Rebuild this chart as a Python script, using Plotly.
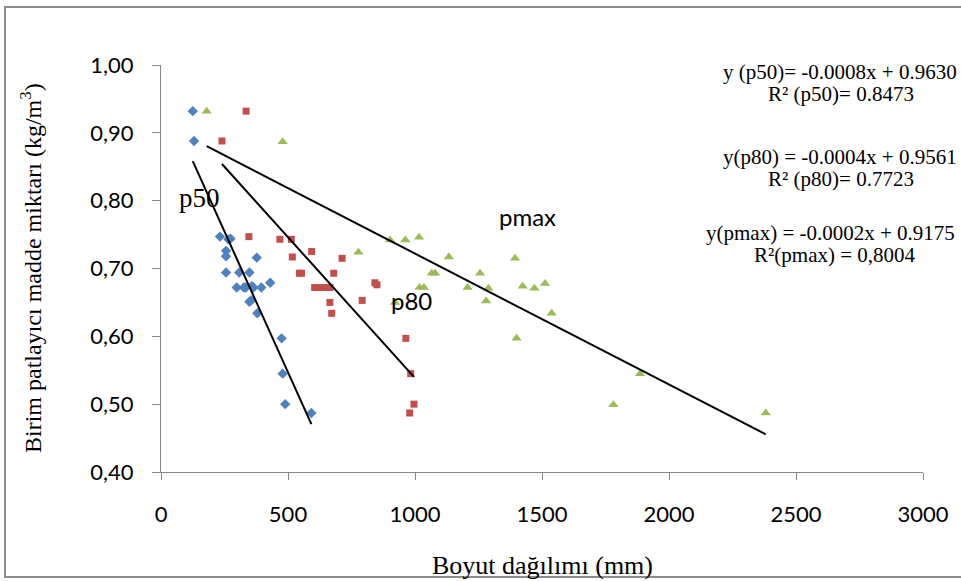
import plotly.graph_objects as go

# ---- data ----
x_p50 = [125, 130, 232, 265, 274, 256, 256, 377, 256, 308, 348, 298, 326, 334, 358,
         364, 395, 430, 348, 355, 379, 475, 479, 489, 592]
y_p50 = [0.932, 0.888, 0.747, 0.743, 0.744, 0.726, 0.718, 0.716, 0.694, 0.694, 0.694,
         0.672, 0.672, 0.672, 0.674, 0.672, 0.672, 0.679, 0.651, 0.653, 0.634, 0.597,
         0.545, 0.500, 0.487]

x_p80 = [335, 240, 346, 468, 513, 593, 517, 713, 545, 553, 680, 605, 620, 635, 650,
         665, 842, 850, 665, 792, 672, 964, 983, 996, 979]
y_p80 = [0.932, 0.888, 0.747, 0.743, 0.743, 0.725, 0.717, 0.715, 0.693, 0.693, 0.693,
         0.672, 0.672, 0.672, 0.672, 0.672, 0.679, 0.676, 0.650, 0.653, 0.634, 0.597,
         0.545, 0.500, 0.487]

x_pmax = [180, 479, 1016, 902, 962, 777, 1133, 1394, 1066, 1079, 1256, 1018, 1035,
          1207, 1289, 1424, 1470, 1512, 1280, 921, 1538, 1400, 1886, 1781, 2381]
y_pmax = [0.932, 0.887, 0.746, 0.742, 0.742, 0.724, 0.717, 0.715, 0.693, 0.693, 0.693,
          0.672, 0.672, 0.672, 0.671, 0.674, 0.671, 0.678, 0.652, 0.650, 0.634, 0.597,
          0.545, 0.499, 0.487]

# trend lines as drawn in the picture (slope, intercept)
trend_slopes = [-0.00083, -0.000415, -0.000193]
trend_intercepts = [0.962, 0.9536, 0.915]

x_ticks = [0, 500, 1000, 1500, 2000, 2500, 3000]
y_ticks = [0.40, 0.50, 0.60, 0.70, 0.80, 0.90, 1.00]
y_tick_labels = ["0,40", "0,50", "0,60", "0,70", "0,80", "0,90", "1,00"]

eq_lines = [
    ["y (p50)= -0.0008x + 0.9630", "R² (p50)= 0.8473"],
    ["y(p80) = -0.0004x + 0.9561", "R² (p80)= 0.7723"],
    ["y(pmax) = -0.0002x + 0.9175", "R²(pmax) = 0,8004"],
]

# ---- layout geometry ----
W, H = 961, 581
L, R, T, B = 161, 38, 65, 109
PW, PH = W - L - R, H - T - B


def px(xp):
    return (xp - L) / PW


def py(yp):
    return (H - B - yp) / PH


fig = go.Figure()

series = [
    (x_p50, y_p50, "#4F81BD", "diamond", 8),
    (x_p80, y_p80, "#C0504D", "square", 7),
    (x_pmax, y_pmax, "#9BBB59", "triangle-up", 9),
]
for xs, ys, col, sym, sz in series:
    fig.add_trace(go.Scatter(x=xs, y=ys, mode="markers",
                             marker=dict(color=col, symbol=sym, size=sz, line=dict(width=0)),
                             showlegend=False, hoverinfo="skip"))

for (xs, _, _, _, _), m, b in zip(series, trend_slopes, trend_intercepts):
    x0, x1 = min(xs), max(xs)
    fig.add_trace(go.Scatter(x=[x0, x1], y=[m * x0 + b, m * x1 + b], mode="lines",
                             line=dict(color="black", width=2),
                             showlegend=False, hoverinfo="skip"))

serif = "Liberation Serif, Times New Roman, serif"
sans = "Lato, Open Sans, sans-serif"


def label(xp, yp, text, family, size, angle=0):
    return dict(x=px(xp), y=py(yp), xref="paper", yref="paper", text=text,
                xanchor="center", yanchor="middle", textangle=angle,
                showarrow=False, font=dict(family=family, size=size, color="black"))


annotations = [
    label(199, 198, "p50", serif, 27),
    label(527, 216, "pmax", sans, 24),
    label(411, 300, "p80", sans, 24),
]

eq_pos = [(840, 72, 841, 94), (840, 157, 841, 179), (830, 233, 835, 255)]
for lines, (x1p, y1p, x2p, y2p) in zip(eq_lines, eq_pos):
    annotations.append(label(x1p, y1p, lines[0], serif, 21))
    annotations.append(label(x2p, y2p, lines[1], serif, 21))

annotations.append(label(542, 565, "Boyut dağılımı (mm)", serif, 26))
annotations.append(label(31, 268, "Birim patlayıcı madde miktarı (kg/m<sup>3</sup>)", serif, 24, -90))

fig.update_layout(
    width=W, height=H,
    margin=dict(l=L, r=R, t=T, b=B),
    paper_bgcolor="white", plot_bgcolor="white",
    annotations=annotations,
    hovermode=False,
    shapes=[dict(type="rect", xref="paper", yref="paper",
                 x0=px(5), x1=px(964), y0=py(577), y1=py(7),
                 line=dict(color="#8c8c8c", width=2), fillcolor="rgba(0,0,0,0)", layer="below")],
)

fig.update_xaxes(range=[0, 3000], tickvals=x_ticks, ticktext=[str(v) for v in x_ticks],
                 showgrid=False, zeroline=False, showline=True, linecolor="#868686", linewidth=1,
                 ticks="outside", ticklen=7, tickcolor="#868686", tickwidth=1,
                 tickfont=dict(family=sans, size=22, color="black"), ticklabelstandoff=16)
fig.update_yaxes(range=[0.40, 1.00], tickvals=y_ticks, ticktext=y_tick_labels,
                 showgrid=False, zeroline=False, showline=True, linecolor="#868686", linewidth=1,
                 ticks="outside", ticklen=8, tickcolor="#868686", tickwidth=1,
                 tickfont=dict(family=sans, size=22, color="black"), ticklabelstandoff=14)

fig.write_html("out.html")
